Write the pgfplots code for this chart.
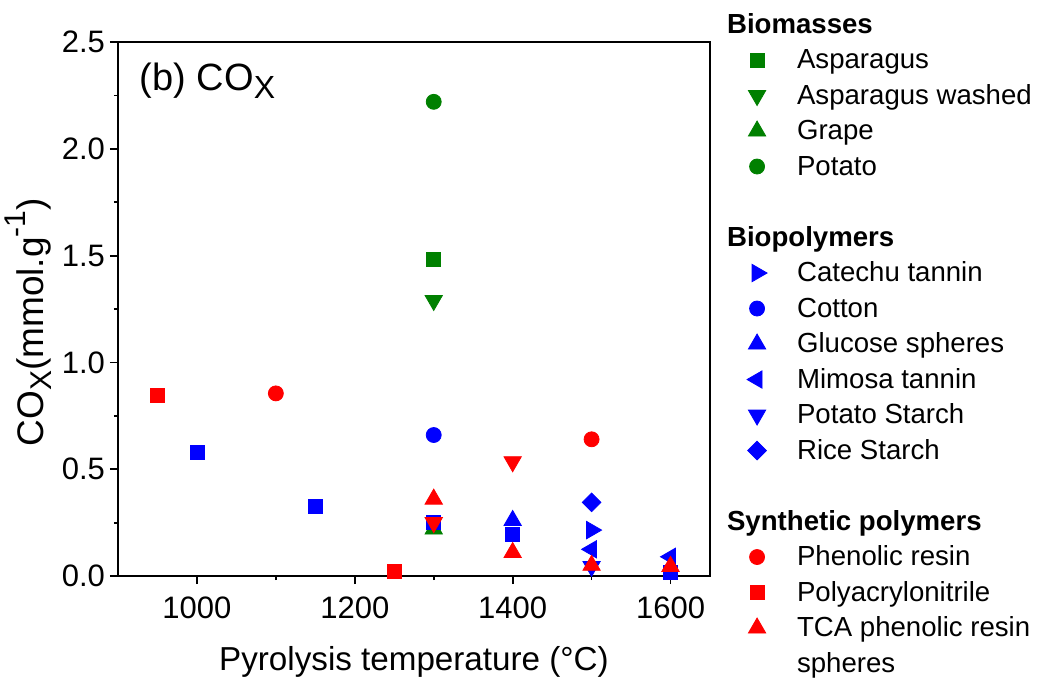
\documentclass[border=0pt]{standalone}
\usepackage{fontspec}
\setmainfont{Liberation Sans}
\usepackage{pgfplots}
\pgfplotsset{compat=1.18}
\definecolor{ggreen}{RGB}{0,128,0}
\definecolor{bblue}{RGB}{0,0,255}
\definecolor{rred}{RGB}{255,0,0}
\newcommand\lsub[1]{\raisebox{-0.22em}{\fontsize{15}{15}\selectfont #1}}
\newcommand\lsup[1]{\raisebox{0.5em}{\fontsize{15}{15}\selectfont #1}}

\begin{document}
\begin{tikzpicture}
\useasboundingbox (-59pt,-53pt) rectangle (459.5pt,288pt);
\begin{axis}[
    at={(0,0)}, anchor=south west,
    width=296pt, height=267pt, scale only axis,
    xmin=900, xmax=1650,
    ymin=0, ymax=2.5,
    xtick={1000,1200,1400,1600},
    ytick={0,0.5,1,1.5,2,2.5},
    minor x tick num=1,
    minor y tick num=1,
    xtick pos=bottom, ytick pos=left,
    tick align=outside,
    major tick length=4pt, minor tick length=2pt,
    every tick/.style={black, line width=0.9pt},
    axis line style={line width=0.9pt},
    /pgf/number format/assume math mode=true,
    xticklabel style={/pgf/number format/1000 sep={}, yshift=-3pt},
    yticklabel style={/pgf/number format/fixed, /pgf/number format/fixed zerofill, /pgf/number format/precision=1, xshift=1pt},
    tick label style={font=\fontsize{15.5}{18}\selectfont},
    label style={font=\fontsize{16.6}{20}\selectfont},
    xlabel={Pyrolysis temperature (°C)},
    ylabel={CO\lsub{X}(mmol.g\lsup{-1})},
    xlabel style={at={(axis description cs:0.5,-0.161)}, anchor=center},
    ylabel style={at={(axis description cs:-0.152,0.475)}, anchor=center, font=\fontsize{18.5}{20}\selectfont},
    legend style={
        at={(axis description cs:1.0507,1.0615)}, anchor=north west,
        draw=none, fill=none, inner sep=0pt, outer sep=0pt,
        row sep=0pt, column sep=15pt,
        font=\fontsize{13.8}{16}\selectfont,
        nodes={inner sep=0pt, text height=12pt, text depth=5.75pt},
    },
    legend image post style={yshift=1.2pt},
    legend cell align=left,
    clip=false,
]
% Biomasses
\addlegendimage{empty legend}
\addlegendentry{\hspace*{-35pt}\textbf{Biomasses}}
\addplot[only marks, mark=square*, mark size=3.5pt, ggreen] coordinates {(1300,1.48)};
\addlegendentry{Asparagus}
\addplot[only marks, mark=triangle*, mark size=5pt, mark options={rotate=180}, ggreen] coordinates {(1300,1.29)};
\addlegendentry{Asparagus washed}
\addplot[only marks, mark=triangle*, mark size=5pt, ggreen] coordinates {(1300,0.22)};
\addlegendentry{Grape}
\addplot[only marks, mark=*, mark size=3.75pt, ggreen] coordinates {(1300,2.22)};
\addlegendentry{Potato}
\addlegendimage{empty legend}
\addlegendentry{}
% Biopolymers
\addlegendimage{empty legend}
\addlegendentry{\hspace*{-35pt}\textbf{Biopolymers}}
\addplot[only marks, mark=square*, mark size=3.5pt, bblue, forget plot] coordinates {
    (1000,0.58) (1150,0.325) (1300,0.25) (1400,0.195) (1600,0.015)};
\addplot[only marks, mark=triangle*, mark size=5pt, mark options={rotate=-90}, bblue] coordinates {(1500,0.215)};
\addlegendentry{Catechu tannin}
\addplot[only marks, mark=*, mark size=3.75pt, bblue] coordinates {(1300,0.66)};
\addlegendentry{Cotton}
\addplot[only marks, mark=triangle*, mark size=5pt, bblue] coordinates {(1400,0.26)};
\addlegendentry{Glucose spheres}
\addplot[only marks, mark=triangle*, mark size=5pt, mark options={rotate=90}, bblue] coordinates {(1500,0.125) (1600,0.09)};
\addlegendentry{Mimosa tannin}
\addplot[only marks, mark=triangle*, mark size=5pt, mark options={rotate=180}, bblue] coordinates {(1500,0.045)};
\addlegendentry{Potato Starch}
\addplot[only marks, mark=square*, mark size=3.3pt, mark options={rotate=45}, bblue] coordinates {(1500,0.345)};
\addlegendentry{Rice Starch}
\addlegendimage{empty legend}
\addlegendentry{}
% Synthetic polymers
\addlegendimage{empty legend}
\addlegendentry{\hspace*{-35pt}\textbf{Synthetic polymers}}
\addplot[only marks, mark=*, mark size=3.75pt, rred] coordinates {(1100,0.855) (1500,0.64)};
\addlegendentry{Phenolic resin}
\addplot[only marks, mark=square*, mark size=3.5pt, rred] coordinates {(950,0.845) (1250,0.02)};
\addlegendentry{Polyacrylonitrile}
\addplot[only marks, mark=triangle*, mark size=5pt, mark options={rotate=180}, rred, forget plot] coordinates {(1300,0.25) (1400,0.535)};
\addplot[only marks, mark=triangle*, mark size=5pt, rred] coordinates {(1300,0.36) (1400,0.11) (1500,0.05) (1600,0.045)};
\addlegendentry{TCA phenolic resin}
\addlegendimage{empty legend}
\addlegendentry{spheres}
\node[anchor=base west, font=\fontsize{19}{22}\selectfont] at (axis description cs:0.025,0.91) {(b) CO\lsub{\fontsize{16}{16}\selectfont X}};
\end{axis}
\end{tikzpicture}
\end{document}
